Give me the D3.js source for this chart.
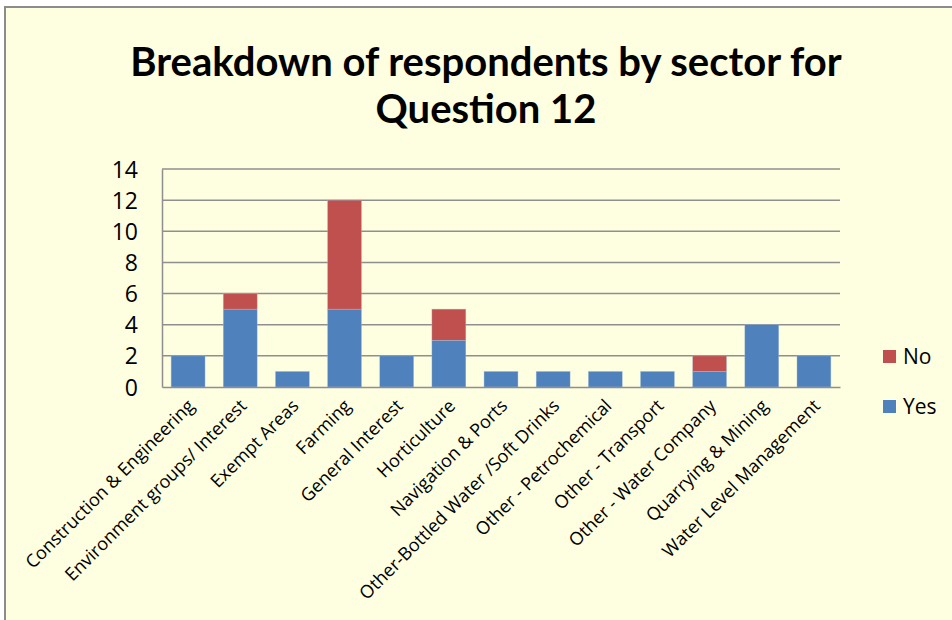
<!DOCTYPE html>
<html><head><meta charset="utf-8">
<script src="https://cdn.jsdelivr.net/npm/d3@7"></script>
<style>body{margin:0;background:#fff;}svg{display:block;}</style>
</head><body>
<svg id="chart" width="952" height="620"></svg>
<script>
const categories = ["Construction & Engineering","Environment groups/ Interest","Exempt Areas","Farming","General Interest","Horticulture","Navigation & Ports","Other-Bottled Water /Soft Drinks","Other - Petrochemical","Other - Transport","Other - Water Company","Quarrying & Mining","Water Level Management"];
const yesValues = [2,5,1,5,2,3,1,1,1,1,1,4,2];
const noValues  = [0,1,0,7,0,2,0,0,0,0,1,0,0];
const yTicks = [0,2,4,6,8,10,12,14];
const seriesNames = ["Yes","No"];
const seriesColors = ["#4F81BD","#C0504D"];
const titleLines = ["Breakdown of respondents by sector for","Question 12"];

const svg = d3.select("#chart");
svg.append("rect").attr("x",5).attr("y",7).attr("width",960).attr("height",620)
  .attr("fill","#FEFEE0").attr("stroke","#8c8c8c").attr("stroke-width",2);

const m = {left:162, right:840, top:169, bottom:387};
const x = d3.scaleBand().domain(categories).range([m.left,m.right]).paddingInner(0.35).paddingOuter(0.175);
const y = d3.scaleLinear().domain([0,14]).range([m.bottom,m.top]);

// title
const t = svg.append("text").attr("text-anchor","middle").attr("font-family","Lato, 'Open Sans', sans-serif")
  .attr("font-weight","bold").attr("font-size",40).attr("fill","#000");
titleLines.forEach((l,i)=>t.append("tspan").attr("x",486).attr("y",76+i*47).text(l));

// gridlines
svg.append("g").selectAll("line").data(yTicks.filter(d=>d>0)).join("line")
  .attr("x1",m.left).attr("x2",m.right).attr("y1",d=>y(d)).attr("y2",d=>y(d))
  .attr("stroke","#8f8f8f").attr("stroke-width",1.5);

// y axis
const yAxis = svg.append("g").attr("transform",`translate(${m.left},0)`)
  .call(d3.axisLeft(y).tickValues(yTicks).tickSize(0).tickPadding(24));
yAxis.attr("font-family","'Open Sans', sans-serif");
yAxis.select(".domain").attr("stroke","#8f8f8f").attr("stroke-width",1.5);
yAxis.selectAll("text").attr("font-family","'Open Sans', sans-serif").attr("font-size",23).attr("fill","#000").attr("dy","0.35em");

// stacked bars
const rows = categories.map((c,i)=>({cat:c, Yes:yesValues[i], No:noValues[i]}));
const stacked = d3.stack().keys(seriesNames)(rows);
svg.append("g").selectAll("g").data(stacked).join("g")
  .attr("fill",(d,i)=>seriesColors[i])
  .selectAll("rect").data(d=>d.filter(e=>e[1]-e[0]>0)).join("rect")
  .attr("x",d=>x(d.data.cat)).attr("width",x.bandwidth())
  .attr("y",d=>y(d[1])).attr("height",d=>y(d[0])-y(d[1]))
  .attr("stroke","#A7BFDE").attr("stroke-width",0.6).attr("stroke-opacity",0.6);

// x axis
const xAxis = svg.append("g").attr("transform",`translate(0,${m.bottom})`)
  .call(d3.axisBottom(x).tickSize(0).tickPadding(0));
xAxis.attr("font-family","'Open Sans', sans-serif");
xAxis.select(".domain").attr("stroke","#8f8f8f").attr("stroke-width",1.5);
xAxis.selectAll("text").attr("font-family","'Open Sans', sans-serif").attr("font-size",18).attr("fill","#000")
  .attr("text-anchor","end").attr("dy",0).attr("y",0)
  .attr("transform",d=>`translate(${x.bandwidth()*0.22},20) rotate(-45)`);

// legend
const legend = svg.append("g");
const legItems = [{name:"No",color:seriesColors[1],y:357},{name:"Yes",color:seriesColors[0],y:407}];
legItems.forEach(it=>{
  legend.append("rect").attr("x",883).attr("y",it.y-7).attr("width",13).attr("height",13).attr("fill",it.color);
  legend.append("text").attr("x",903).attr("y",it.y).attr("dy","0.35em").attr("font-family","'Open Sans', sans-serif")
    .attr("font-size",21).attr("fill","#000").text(it.name);
});
</script>
</body></html>
